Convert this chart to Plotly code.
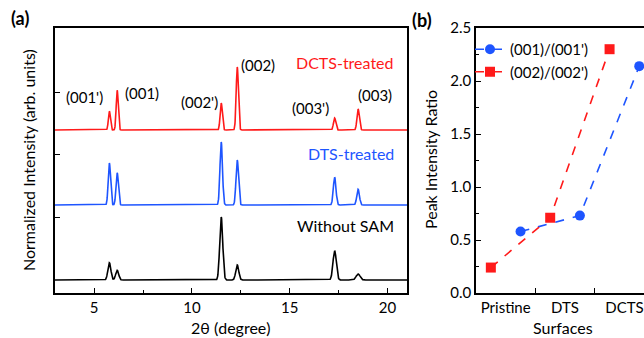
import numpy as np
import plotly.graph_objects as go

# ---------------- data: panel (a) XRD peaks ----------------
peak_pos = [5.78, 6.18, 11.5, 12.32, 17.3, 18.5]
peak_names = ["(001')", "(001)", "(002')", "(002)", "(003')", "(003)"]
red_heights = [0.25, 0.53, 0.36, 0.84, 0.16, 0.28]     # DCTS-treated
blue_heights = [0.56, 0.43, 0.84, 0.60, 0.37, 0.21]    # DTS-treated
black_heights = [0.23, 0.13, 0.84, 0.20, 0.39, 0.08]   # Without SAM
red_fwhm = [0.12, 0.12, 0.13, 0.13, 0.14, 0.14]
blue_fwhm = [0.14, 0.14, 0.15, 0.15, 0.16, 0.16]
black_fwhm = [0.18, 0.18, 0.18, 0.18, 0.2, 0.24]
offsets = {"black": 0.0, "blue": 1.0, "red": 2.0}

# ---------------- data: panel (b) ----------------
surfaces = ["Pristine", "DTS", "DCTS"]
ratio_001 = [0.58, 0.73, 2.14]
ratio_002 = [0.24, 0.71, 2.30]

RED = "#ff1a1a"
BLUE = "#1e55ff"
BLACK = "#000000"
FONT = "Lato"

two_theta = np.arange(3.0, 21.0001, 0.01)


def profile(heights, fwhm, offset):
    y = np.full_like(two_theta, offset)
    for x0, h, w in zip(peak_pos, heights, fwhm):
        y = y + h * np.exp(-4 * np.log(2) * ((two_theta - x0) / w) ** 2)
    return y


fig = go.Figure()
fig.add_trace(go.Scatter(x=two_theta, y=profile(black_heights, black_fwhm, offsets["black"]),
                         mode="lines", line=dict(color=BLACK, width=1.6), showlegend=False,
                         xaxis="x", yaxis="y"))
fig.add_trace(go.Scatter(x=two_theta, y=profile(blue_heights, blue_fwhm, offsets["blue"]),
                         mode="lines", line=dict(color=BLUE, width=1.6), showlegend=False,
                         xaxis="x", yaxis="y"))
fig.add_trace(go.Scatter(x=two_theta, y=profile(red_heights, red_fwhm, offsets["red"]),
                         mode="lines", line=dict(color=RED, width=1.6), showlegend=False,
                         xaxis="x", yaxis="y"))

# panel (b)
cat_idx = np.arange(len(surfaces))
fig.add_trace(go.Scatter(x=cat_idx + 0.25, y=ratio_001, mode="lines+markers",
                         name="(001)/(001')",
                         line=dict(color=BLUE, width=1.6, dash="dash"),
                         marker=dict(symbol="circle", size=10, color=BLUE),
                         xaxis="x2", yaxis="y2"))
fig.add_trace(go.Scatter(x=cat_idx - 0.25, y=ratio_002, mode="lines+markers",
                         name="(002)/(002')",
                         line=dict(color=RED, width=1.6, dash="dash"),
                         marker=dict(symbol="square", size=10, color=RED),
                         xaxis="x2", yaxis="y2"))

W, H = 644, 338
def fx(px):
    return px / W
def fy(py):
    return 1 - py / H

axis_common = dict(showline=True, linecolor="black", linewidth=1.5, showgrid=False,
                   zeroline=False, ticks="inside", tickcolor="black", tickwidth=1.2,
                   ticklen=5, automargin=False,
                   tickfont=dict(family=FONT, size=15, color="black"))

fig.update_layout(
    width=W, height=H,
    margin=dict(l=0, r=0, t=0, b=0),
    paper_bgcolor="white", plot_bgcolor="white",
    font=dict(family=FONT, size=15, color="black"),
    xaxis=dict(domain=[fx(55), fx(407)], range=[3, 21], tickvals=[5, 10, 15, 20],
               minor=dict(tickvals=[2.5, 7.5, 12.5, 17.5], ticks="inside", ticklen=3,
                          tickcolor="black", tickwidth=1.2),
               mirror=True, anchor="y", **axis_common),
    yaxis=dict(domain=[fy(293), fy(28)], range=[-0.173, 3.36],
               tickvals=[0.833, 1.667, 2.5], showticklabels=False,
               mirror=True, anchor="x", **axis_common),
    xaxis2=dict(domain=[fx(476), 1.0], range=[-0.5, 2.33], tickvals=[0, 1, 2],
                ticktext=surfaces,
                minor=dict(tickvals=[0.5, 1.5], ticks="inside", ticklen=5,
                           tickcolor="black", tickwidth=1.2),
                mirror=True, anchor="y2",
                **{**axis_common, "ticks": ""}),
    yaxis2=dict(domain=[fy(293), fy(28)], range=[0, 2.5], tickvals=[0, 0.5, 1.0, 1.5, 2.0, 2.5],
                ticktext=["0.0", "0.5", "1.0", "1.5", "2.0", "2.5"],
                minor=dict(tickvals=[0.25, 0.75, 1.25, 1.75, 2.25], ticks="inside", ticklen=3,
                           tickcolor="black", tickwidth=1.2),
                mirror=False, anchor="x2", **axis_common),
    legend=dict(x=fx(470), y=fy(33), xanchor="left", yanchor="top",
                bgcolor="rgba(0,0,0,0)", font=dict(family=FONT, size=15),
                itemwidth=30, tracegroupgap=0),
)

ann = []
def paper_text(text, x, y, size=15, color="black", bold=False, angle=0, xanchor="center"):
    ann.append(dict(text=f"<b>{text}</b>" if bold else text, x=fx(x), y=fy(y),
                    xref="paper", yref="paper", showarrow=False, textangle=angle,
                    xanchor=xanchor, yanchor="middle",
                    font=dict(family=FONT, size=size, color=color)))

paper_text("(a)", 20, 18, size=18, bold=True)
paper_text("(b)", 422, 20, size=18, bold=True)
paper_text("Normalized Intensity (arb. units)", 28, 160, size=16, angle=-90)
paper_text("2θ (degree)", 231, 327, size=16)
paper_text("Peak Intensity Ratio", 430, 160, size=16, angle=-90)
paper_text("Surfaces", 563, 327, size=16)

# curve labels
paper_text("DCTS-treated", 396, 63, size=16, color=RED, xanchor="right")
paper_text("DTS-treated", 396, 153, size=16, color=BLUE, xanchor="right")
paper_text("Without SAM", 396, 225, size=16, color=BLACK, xanchor="right")

# peak labels
label_px = [(84, 97), (142, 93), (199, 102), (258, 65), (310, 108), (375, 95)]
for name, (lx, ly) in zip(peak_names, label_px):
    paper_text(name, lx, ly, size=15)

fig.update_layout(annotations=ann)
fig.write_html("out.html", config={"displayModeBar": False},
               post_script="document.body.style.margin='0';")
